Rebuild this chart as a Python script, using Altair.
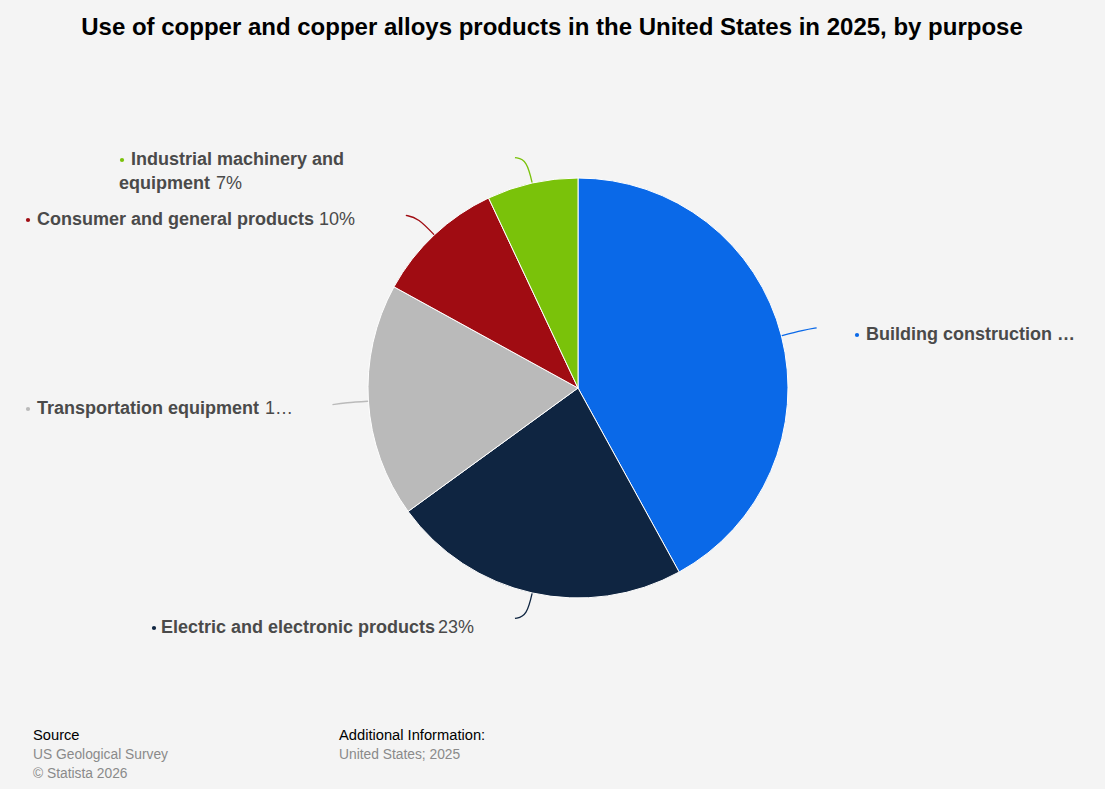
import math
import altair as alt
import pandas as pd

# ---- data ----
categories = [
    "Building construction",
    "Electric and electronic products",
    "Transportation equipment",
    "Consumer and general products",
    "Industrial machinery and equipment",
]
shares = [42, 23, 18, 10, 7]
colors = ["#0a69e8", "#0f2541", "#bababa", "#a00c12", "#7ac20a"]

title_text = "Use of copper and copper alloys products in the United States in 2025, by purpose"

# ---- layout ----
W, H = 1105, 789
CX, CY, R = 578, 388, 210
FONT = "Liberation Sans"

df = pd.DataFrame({"cat": categories, "value": shares, "idx": list(range(len(shares)))})

pie = alt.Chart(df).mark_arc(outerRadius=R, stroke="#ffffff", strokeWidth=1).encode(
    theta=alt.Theta("value:Q", stack=True),
    color=alt.Color("cat:N", scale=alt.Scale(domain=categories, range=colors), legend=None),
    order=alt.Order("idx:Q"),
    x=alt.value(CX),
    y=alt.value(CY),
)

# connectors computed from slice mid-angles
total = sum(shares)
rows = []
cum = 0
for c, v in zip(categories, shares):
    mid = (cum + v / 2) / total * 2 * math.pi
    cum += v
    sx, sy = math.sin(mid), -math.cos(mid)
    p0 = (CX + (R - 4) * sx, CY + (R - 4) * sy)
    p1 = (CX + (R + 24) * sx, CY + (R + 24) * sy)
    d = 12 if sx >= 0 else -12
    p2 = (p1[0] + d, p1[1] - 2 if sy < 0 else p1[1] + 2)
    for k, (px, py) in enumerate([p0, p1, p2]):
        rows.append({"cat": c, "k": k, "px": px, "py": py})
conn_df = pd.DataFrame(rows)

connectors = alt.Chart(conn_df).mark_line(strokeWidth=1.3, interpolate="basis").encode(
    x=alt.X("px:Q", scale=None),
    y=alt.Y("py:Q", scale=None),
    detail="cat:N",
    order="k:Q",
    color=alt.Color("cat:N", scale=alt.Scale(domain=categories, range=colors), legend=None),
)

# label layout (positions only)
bold_labels = pd.DataFrame({
    "t": ["Industrial machinery and", "equipment", "Consumer and general products",
          "Building construction …", "Transportation equipment", "Electric and electronic products"],
    "px": [131, 119, 37, 866, 37, 161],
    "py": [160, 184, 220, 335, 409, 628],
})
pct_labels = pd.DataFrame({
    "t": ["7%", "10%", "1…", "23%"],
    "px": [216, 319, 265, 438],
    "py": [184, 220, 409, 628],
})
bullets = pd.DataFrame({
    "cat": ["Industrial machinery and equipment", "Consumer and general products",
            "Building construction", "Transportation equipment", "Electric and electronic products"],
    "px": [122, 28, 857, 28, 154],
    "py": [160, 220, 335, 409, 628],
})

bold_text = alt.Chart(bold_labels).mark_text(
    font=FONT, fontSize=18, fontWeight="bold", color="#4a4a4a", align="left", baseline="middle"
).encode(x=alt.X("px:Q", scale=None), y=alt.Y("py:Q", scale=None), text="t:N")

pct_text = alt.Chart(pct_labels).mark_text(
    font=FONT, fontSize=18, color="#4a4a4a", align="left", baseline="middle"
).encode(x=alt.X("px:Q", scale=None), y=alt.Y("py:Q", scale=None), text="t:N")

bullet_marks = alt.Chart(bullets).mark_circle(size=18, opacity=1).encode(
    x=alt.X("px:Q", scale=None),
    y=alt.Y("py:Q", scale=None),
    color=alt.Color("cat:N", scale=alt.Scale(domain=categories, range=colors), legend=None),
)

title = alt.Chart(pd.DataFrame({"t": [title_text]})).mark_text(
    font=FONT, fontSize=24, fontWeight="bold", color="#000000", align="center", baseline="middle"
).encode(x=alt.value(552), y=alt.value(28), text="t:N")

footer_dark = pd.DataFrame({"t": ["Source", "Additional Information:"], "px": [33, 339], "py": [736, 736]})
footer_gray = pd.DataFrame({
    "t": ["US Geological Survey", "© Statista 2026", "United States; 2025"],
    "px": [33, 33, 339],
    "py": [755, 774, 755],
})
f_dark = alt.Chart(footer_dark).mark_text(
    font=FONT, fontSize=14.7, color="#000000", align="left", baseline="middle"
).encode(x=alt.X("px:Q", scale=None), y=alt.Y("py:Q", scale=None), text="t:N")
f_gray = alt.Chart(footer_gray).mark_text(
    font=FONT, fontSize=13.8, color="#8a8a8a", align="left", baseline="middle"
).encode(x=alt.X("px:Q", scale=None), y=alt.Y("py:Q", scale=None), text="t:N")

chart = alt.layer(
    connectors, pie, bullet_marks, bold_text, pct_text, title, f_dark, f_gray
).resolve_scale(color="shared").properties(
    width=W, height=H, background="#f4f4f4", padding=0, autosize=alt.AutoSizeParams(type="none")
).configure_view(stroke=None)

chart.save("out.html", embed_options={"renderer": "svg", "actions": False})
